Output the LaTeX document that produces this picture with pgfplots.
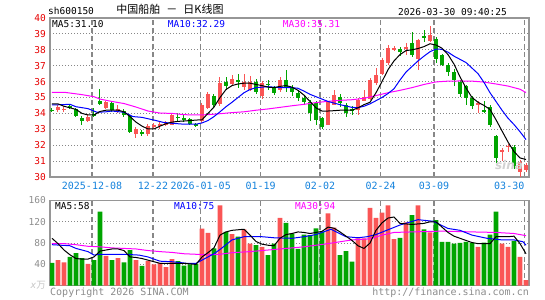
\documentclass[border=0pt]{standalone}
\usepackage{fontspec}
\setmainfont{DejaVu Sans Mono}
\newfontfamily\cjk{Noto Sans CJK SC}
\newfontfamily\sansf{DejaVu Sans}
\usepackage{pgfplots}
\pgfplotsset{compat=1.18}
\usepackage{pgfplotstable}
\definecolor{upred}{RGB}{250,85,85}
\definecolor{dngreen}{RGB}{0,165,0}
\definecolor{dateblue}{RGB}{20,130,220}
\definecolor{ylred}{RGB}{230,0,0}
\definecolor{framegray}{RGB}{150,150,150}
\definecolor{gridgray}{RGB}{135,135,135}
\definecolor{txtgray}{RGB}{140,140,140}
\definecolor{mablue}{RGB}{0,0,255}
\definecolor{mamag}{RGB}{255,0,255}

\pgfplotstableread{
i o h l c v
1 34.21 34.50 34.10 34.43 48
2 34.20 34.45 34.10 34.30 44
6 33.55 33.95 33.45 33.80 41
9 34.35 34.80 34.30 34.72 56
11 34.17 34.52 34.00 34.28 52
14 32.72 33.17 32.48 33.00 48
16 32.72 33.35 32.60 33.22 46
17 33.20 33.40 33.05 33.24 40
18 33.28 33.45 33.00 33.32 43
19 33.27 33.50 33.20 33.40 35
20 33.30 33.95 33.25 33.88 50
25 33.50 34.65 33.40 34.55 107
26 34.32 35.35 34.25 35.22 99
28 34.60 36.30 34.45 35.90 151
30 35.85 36.40 35.80 36.15 97
32 35.65 36.45 35.50 35.98 106
33 35.50 36.35 35.42 35.95 79
35 35.10 36.05 34.90 35.90 73
38 35.47 36.30 35.37 36.10 127.5
46 33.30 34.80 33.25 34.75 135.6
47 34.55 35.50 34.50 35.15 109
51 34.20 34.95 33.90 34.85 89
52 34.80 35.45 34.75 35.05 89
53 34.90 36.20 34.85 36.08 146
54 35.90 36.85 35.80 36.42 127.5
55 36.50 37.50 36.40 37.35 137
56 37.15 38.30 37.05 38.10 151
57 38.05 38.25 37.90 38.10 87.5
59 38.10 38.40 37.70 38.15 119
61 37.40 38.70 36.75 38.60 151
63 38.55 39.50 38.50 38.95 100
71 34.58 34.75 34.00 34.63 73
75 31.63 31.85 31.00 31.68 79
76 31.90 32.10 31.60 31.95 73
78 30.30 31.10 30.00 30.93 54
79 30.45 30.85 30.30 30.78 10.6
}\uptab

\pgfplotstableread{
i o h l c v
0 34.22 34.32 34.10 34.20 43
3 34.45 34.60 34.25 34.40 54
4 34.25 34.35 33.80 33.85 61
5 33.73 33.85 33.28 33.53 52
7 33.92 34.35 33.78 33.88 48
8 34.75 35.55 34.52 34.58 139
10 34.65 34.72 34.10 34.20 48
12 34.15 34.28 33.80 33.88 44
13 33.85 33.90 32.78 32.85 67
15 32.80 32.95 32.60 32.77 37
21 33.78 34.00 33.50 33.75 46
22 33.72 33.95 33.45 33.60 37.5
23 33.62 33.70 33.28 33.33 40
24 33.30 33.40 33.15 33.27 41
27 35.10 35.25 34.43 34.53 70
29 35.95 36.30 35.45 35.70 101
31 36.10 36.45 35.60 35.95 92
34 36.00 36.15 35.20 35.35 76
36 35.85 36.10 35.45 35.80 57.5
37 35.58 35.72 35.15 35.28 79
39 36.10 36.70 35.37 35.58 118
40 35.60 35.80 35.10 35.37 98
41 35.30 35.50 34.75 34.95 69
42 35.00 35.16 34.53 34.70 96
43 34.70 34.85 33.50 34.00 95
44 34.65 34.75 33.27 33.60 107.5
45 33.70 33.80 33.05 33.17 101
48 35.05 35.25 34.40 34.65 57.5
49 34.55 34.65 33.80 34.00 65
50 34.25 34.45 33.90 34.20 45
58 38.05 38.20 37.60 37.85 90
60 38.40 39.15 37.55 37.65 132.5
62 38.85 39.25 38.50 38.80 106
64 38.70 38.80 37.20 37.40 123
65 37.65 37.75 36.95 37.05 82.5
66 37.05 37.15 36.35 36.60 82.5
67 36.60 36.80 35.75 36.10 79
68 36.00 36.10 35.05 35.20 80.6
69 35.70 35.80 34.55 35.00 82.5
70 35.00 35.10 34.30 34.45 81
72 34.18 34.75 34.05 34.15 81
73 34.40 34.50 33.15 33.25 96
74 32.55 32.65 30.90 31.20 139
77 31.90 32.00 30.50 30.67 84
}\dntab

\pgfplotsset{kstyle/.style={
  scale only axis, width=479bp, xmin=-0.333, xmax=79.5,
  axis line style={draw=framegray, line width=1.2bp},
  major tick length=0pt,
  xtick={6.67,16.83,24.78,34.78,44.67,54.78,63.67,78.72},
  grid=major,
  x grid style={draw=gridgray, line width=1.1bp, dash pattern=on 5bp off 3bp},
  y grid style={draw=gridgray, line width=1.1bp, dash pattern=on 1bp off 2bp},
  /pgf/number format/assume math mode=true,
  yticklabel style={anchor=east, inner sep=0pt, xshift=-4bp, font=\fontsize{9.5bp}{10bp}\selectfont},
}}

\begin{document}
\begin{tikzpicture}
\path[use as bounding box] (0,0) rectangle (545bp,300bp);

% ---------------- price panel ----------------
\begin{axis}[kstyle, at={(50bp,123bp)}, anchor=south west, height=159bp,
  ymin=30, ymax=40, ytick={30,31,...,40},
  yticklabel style={text=ylred},
  xticklabels={2025-12-08,12-22,2026-01-05,01-19,02-02,02-24,03-09,\makebox[0pt][r]{03-30}},
  xticklabel style={anchor=base, inner sep=0pt, yshift=-13bp, text=dateblue, font=\fontsize{10bp}{11bp}\selectfont},
]
% wicks
\addplot[draw=none, forget plot, error bars/.cd, y dir=both, y explicit, error mark=none,
  error bar style={draw=upred, line width=1bp, solid}]
  table[x=i, y expr={(\thisrow{h}+\thisrow{l})/2}, y error expr={(\thisrow{h}-\thisrow{l})/2}]{\uptab};
\addplot[draw=none, forget plot, error bars/.cd, y dir=both, y explicit, error mark=none,
  error bar style={draw=dngreen, line width=1bp, solid}]
  table[x=i, y expr={(\thisrow{h}+\thisrow{l})/2}, y error expr={(\thisrow{h}-\thisrow{l})/2}]{\dntab};
% bodies
\addplot[draw=none, forget plot, error bars/.cd, y dir=both, y explicit, error mark=none,
  error bar style={draw=upred, line width=4.6bp, solid}]
  table[x=i, y expr={(\thisrow{o}+\thisrow{c})/2}, y error expr={max(abs(\thisrow{c}-\thisrow{o})/2,0.035)}]{\uptab};
\addplot[draw=none, forget plot, error bars/.cd, y dir=both, y explicit, error mark=none,
  error bar style={draw=dngreen, line width=4.6bp, solid}]
  table[x=i, y expr={(\thisrow{o}+\thisrow{c})/2}, y error expr={max(abs(\thisrow{c}-\thisrow{o})/2,0.035)}]{\dntab};
% MA30
\addplot[mamag, line width=1bp, mark=none] coordinates {
(0,35.33)(2,35.33)(3,35.28)(5,35.18)(7,35.05)(8,34.9)(10,34.75)(12,34.62)(14,34.4)(16,34.15)(18,34.02)(20,34.0)(22,33.92)(24,33.9)(26,33.92)(28,33.98)(30,34.05)(32,34.1)(34,34.2)(36,34.28)(38,34.38)(40,34.48)(42,34.57)(44,34.68)(46,34.76)(48,34.82)(50,34.86)(52,34.95)(54,35.12)(56,35.3)(58,35.45)(60,35.62)(62,35.82)(64,35.98)(66,36.03)(68,36.04)(70,36.03)(72,35.97)(74,35.85)(76,35.72)(78,35.52)(79,35.31)};
% MA10
\addplot[mablue, line width=1bp, mark=none] coordinates {
(0,34.53)(3,34.57)(4,34.42)(6,34.3)(7.5,34.07)(9,34.1)(10,34.15)(12,34.07)(13.5,33.8)(15,33.75)(17,33.58)(18.5,33.44)(20,33.38)(22,33.32)(24,33.32)(25,33.4)(26,33.55)(27,33.8)(28,34.1)(29,34.42)(30,34.7)(31,35.0)(32,35.3)(33,35.5)(34,35.62)(36,35.68)(38,35.62)(40,35.62)(41,35.58)(42,35.4)(43,35.2)(44,35.05)(46,34.75)(48,34.55)(50,34.38)(51,34.36)(52,34.45)(53,34.6)(54,34.8)(55,35.0)(56,35.25)(57,35.55)(58,36.1)(59,36.6)(60,36.95)(61,37.3)(62,37.6)(63,37.88)(64,38.05)(65,38.03)(66,37.85)(67,37.6)(68,37.4)(69,37.2)(70,36.85)(71,36.5)(72,35.95)(73,35.3)(74,34.75)(75,34.2)(76,33.7)(77,33.3)(78,32.85)(79,32.35)};
% MA5
\addplot[black, line width=1bp, mark=none] coordinates {
(0,34.6)(1,34.6)(2,34.45)(3,34.35)(4,34.25)(5,34.0)(6,33.9)(7,33.9)(8,34.12)(9,34.2)(10,34.2)(11,34.2)(12,34.1)(13,33.8)(14,33.45)(15,33.2)(16,33.02)(17,33.02)(18,33.2)(19,33.35)(20,33.45)(21,33.5)(22,33.52)(23,33.55)(24,33.58)(25,33.6)(26,34.0)(27,34.4)(28,35.0)(29,35.5)(30,35.75)(31,35.85)(32,35.9)(33,35.9)(34,35.82)(35,35.75)(36,35.65)(37,35.62)(38,35.7)(39,35.75)(40,35.65)(41,35.45)(42,35.15)(43,34.75)(44,34.35)(45,34.15)(46,34.15)(47,34.17)(48,34.2)(49,34.2)(50,34.2)(51,34.35)(52,34.55)(53,34.7)(54,35.3)(55,36.0)(56,36.75)(57,37.3)(58,37.7)(59,37.95)(60,38.0)(61,38.08)(62,38.2)(63,38.38)(64,38.3)(65,38.1)(66,37.7)(67,37.1)(68,36.3)(69,35.6)(70,35.0)(71,34.7)(72,34.5)(73,34.25)(74,33.6)(75,32.9)(76,32.2)(77,31.6)(78,31.2)(79,31.1)};
\end{axis}

% ---------------- volume panel ----------------
\begin{axis}[kstyle, at={(50bp,14.3bp)}, anchor=south west, height=85.2bp,
  ymin=0, ymax=160, ytick={0,40,80,120,160},
  yticklabels={{\color{gray!45}\textit{x}{\cjk 万}},40,80,120,160},
  yticklabel style={text=txtgray},
  xticklabels={},
]
\addplot[ybar, bar width=4.6bp, bar shift=0pt, fill=upred, draw=none, forget plot] table[x=i, y=v]{\uptab};
\addplot[ybar, bar width=4.6bp, bar shift=0pt, fill=dngreen, draw=none, forget plot] table[x=i, y=v]{\dntab};
% MA30 vol
\addplot[mamag, line width=1bp, mark=none] coordinates {
(0,79)(2,79)(4,77)(6,74)(8,73)(10,71)(12,70)(14,69)(16,66)(18,64)(20,62.5)(22,60)(24,59)(26,58)(28,59)(30,62)(33,64)(36,67)(39,70)(42,73)(44,76)(46,79)(50,86)(53,88)(55,95)(57,100)(60,101)(65,102.5)(70,101)(74,100)(77,98)(79,94)};
% MA10 vol
\addplot[mablue, line width=1bp, mark=none] coordinates {
(0,77)(1.5,76)(3,75)(4,70)(6,64)(7,57.5)(8,59)(10,59)(12,59)(14.5,57.5)(16,54)(18,46)(20,45)(22.5,42)(24,42)(25,48)(26,54)(27,60)(28,68)(30,86)(32,92)(35,92)(37,90)(40,89)(42,92)(44,96)(46.5,106)(49,92)(51,90)(52.5,92)(54,96)(58,114)(61,124)(63.5,121)(66,107.5)(68,104)(70,95)(72.5,89)(75,86)(77,86)(78.5,82.5)(79,76)};
% MA5 vol
\addplot[black, line width=1bp, mark=none] coordinates {
(0,89)(1,79)(2,67)(3,58)(4,51)(5,50)(6,50)(7,54)(8,65)(9,67)(10,69)(11,69)(12,66)(13,54)(14,53)(15,51)(16,48)(17,45)(18,42)(20,42)(22,42)(23,41)(24,40)(25,54)(26,62)(27,71)(28,95)(29,101)(30,104)(31,105)(32,106)(33,95)(34,83)(35,78)(36,76)(37,75)(38,89)(39,96)(40,98)(41,101)(42,100)(43,98)(44,100)(45,102)(46,110)(47,108)(48,101)(49,93)(50,85)(51,75)(52,70)(53,80)(54,104)(55,118)(56,127)(57,129)(58,117)(59,116)(60,115)(61,116)(62,117)(63,120)(64,120)(65,110)(66,100)(67,93)(68,89)(69,85)(70,81)(71,79)(72,79)(73,79)(74,92)(75,92)(76,92)(77,93)(78,79)(79,60)};
\end{axis}

% ---------------- texts ----------------
\begin{scope}[every node/.style={inner sep=0pt, font=\fontsize{9.5bp}{10bp}\selectfont}]
\node[anchor=west] at (48bp,289bp) {sh600150};
\node[anchor=center, font=\cjk\fontsize{11bp}{12bp}\selectfont] at (170bp,290.3bp) {中国船舶\hspace{6bp}－\hspace{6bp}日K线图};
\node[anchor=east] at (507bp,288.3bp) {2026-03-30 09:40:25};
\node[anchor=west] at (52bp,276.3bp) {MA5:31.10};
\node[anchor=west, text=mablue] at (167.7bp,276.3bp) {MA10:32.29};
\node[anchor=west, text=mamag] at (282.7bp,276.3bp) {MA30:35.31};
\node[anchor=west] at (55bp,93.5bp) {MA5:58};
\node[anchor=west, text=mablue] at (174bp,93.5bp) {MA10:75};
\node[anchor=west, text=mamag] at (295bp,93.5bp) {MA30:94};
\node[anchor=west, text=txtgray, font=\fontsize{10bp}{11bp}\selectfont] at (50bp,7bp) {Copyright 2026 SINA.COM};
\node[anchor=east, text=txtgray, font=\fontsize{10bp}{11bp}\selectfont] at (529bp,7bp) {http://finance.sina.com.cn};
\node[anchor=center, text=gray!35, font=\sansf\bfseries\itshape\fontsize{12bp}{12bp}\selectfont] at (509bp,135bp) {sina};
\end{scope}
\end{tikzpicture}
\end{document}
